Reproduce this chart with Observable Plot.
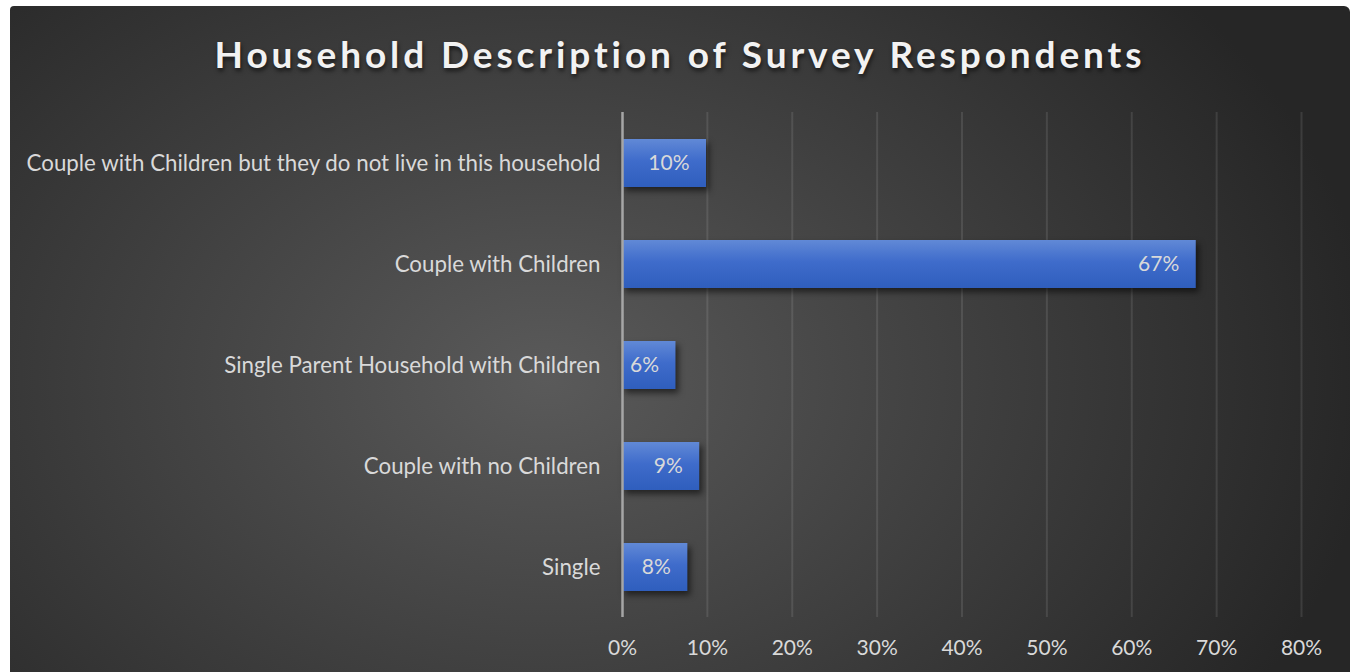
<!DOCTYPE html>
<html>
<head>
<meta charset="utf-8">
<script src="https://cdn.jsdelivr.net/npm/d3@7"></script>
<script src="https://cdn.jsdelivr.net/npm/@observablehq/plot@0.6"></script>
<style>
  html, body { margin: 0; padding: 0; background: #ffffff; }
  #panel {
    position: absolute; left: 10px; top: 6px; width: 1340px; height: 666px;
    border-radius: 4px 6px 0 0; overflow: hidden;
    background: radial-gradient(ellipse 62% 90% at 40% 56%, #5a5a5a 0%, #454545 40%, #262626 100%);
  }
  #title {
    position: absolute; left: 0; top: 25px; width: 1340px; text-align: center;
    font-family: "Lato", sans-serif; font-weight: 700; font-size: 37px;
    letter-spacing: 3.9px; color: #f2f2f2;
    text-shadow: 1px 3px 4px rgba(0,0,0,0.6);
  }
  #chart { position: absolute; left: 0; top: 0; }
</style>
</head>
<body>
<div id="panel">
  <div id="chart"></div>
  <div id="title">Household Description of Survey Respondents</div>
</div>
<script>
const categories = [
  "Couple with Children but they do not live in this household",
  "Couple with Children",
  "Single Parent Household with Children",
  "Couple with no Children",
  "Single"
];
const values = [9.9, 67.6, 6.3, 9.1, 7.7];
const valueLabels = ["10%", "67%", "6%", "9%", "8%"];
const xTicks = [0, 10, 20, 30, 40, 50, 60, 70, 80];
const xTickLabels = ["0%", "10%", "20%", "30%", "40%", "50%", "60%", "70%", "80%"];

const data = categories.map((c, i) => ({cat: c, value: values[i], label: valueLabels[i]}));

const plot = Plot.plot({
  width: 1340,
  height: 666,
  marginLeft: 612,
  marginRight: 49,
  marginTop: 106,
  marginBottom: 55,
  style: {fontFamily: "Lato, sans-serif", background: "transparent", overflow: "visible"},
  x: {domain: [0, 80], axis: null},
  y: {domain: categories, paddingInner: 0.525, paddingOuter: 0.2625, axis: null},
  marks: [
    Plot.ruleX(xTicks.filter(d => d > 0), {stroke: "#ffffff", strokeOpacity: 0.1, strokeWidth: 2}),
    Plot.barX(data, {x: "value", y: "cat", fill: "url(#barGrad)"}),
    Plot.ruleX([0], {stroke: "#a6a6a6", strokeWidth: 2.5}),
    Plot.axisY({tickSize: 0, tickPadding: 22, fontSize: 22.3, fill: "#d9d9d9", label: null}),
    Plot.axisX({ticks: xTicks, tickFormat: (d) => xTickLabels[xTicks.indexOf(d)], tickSize: 0, tickPadding: 23, fontSize: 21, fill: "#d9d9d9", label: null}),
    Plot.text(data, {x: "value", y: "cat", text: "label", textAnchor: "end", dx: -17, fill: "#d9d9d9", fontSize: 21})
  ]
});

const svg = d3.select(plot);
svg.insert("defs", ":first-child").html(
  `<linearGradient id="barGrad" x1="0" y1="0" x2="0" y2="1">
     <stop offset="0%" stop-color="#6189d6"/>
     <stop offset="45%" stop-color="#3f6ccb"/>
     <stop offset="100%" stop-color="#2f5ebd"/>
   </linearGradient>`
);
svg.selectAll("g[aria-label='bar'] rect").style("filter", "drop-shadow(3px 4px 3px rgba(0,0,0,0.55))");
document.getElementById("chart").appendChild(plot);
</script>
</body>
</html>
